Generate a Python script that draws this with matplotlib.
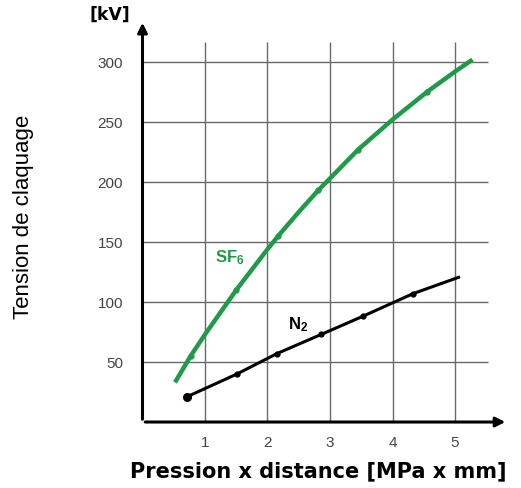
import matplotlib.pyplot as plt
from matplotlib import font_manager

# values
sf6_x = [0.52, 0.77, 1.0, 1.5, 2.0, 2.17, 2.5, 2.81, 3.0, 3.45, 4.0, 4.55, 5.0, 5.28]
sf6_y = [33, 55, 73, 110, 144, 155, 175, 193, 203, 227, 252, 275, 292, 302]
sf6_marks = [1, 3, 5, 7, 9, 11]
n2_x = [0.71, 1.51, 2.15, 2.86, 3.52, 4.33, 5.08]
n2_y = [21, 40, 57, 73, 88, 107, 121]
n2_marks = [0, 1, 2, 3, 4, 5]
x_ticks = [1, 2, 3, 4, 5]
y_ticks = [50, 100, 150, 200, 250, 300]

plt.rcParams['font.family'] = ['Liberation Sans', 'DejaVu Sans']
plt.rcParams['mathtext.default'] = 'regular'
green = '#1f9a48'
gridc = '#6a6a6a'

names = {f.name for f in font_manager.fontManager.ttflist}
narrow = 'Liberation Sans Narrow' if 'Liberation Sans Narrow' in names else 'Liberation Sans'

fig = plt.figure(figsize=(5.21, 4.88), dpi=100)
ax = fig.add_axes([0.2735, 0.1352, 0.7018, 0.8238])
ax.set_xlim(0, 5.85)
ax.set_ylim(0, 335)
for s in ax.spines.values():
    s.set_visible(False)

# grid
ax.vlines(x_ticks, -5, 317, color=gridc, lw=1.0, zorder=1)
ax.hlines(y_ticks, -0.17, 5.53, color=gridc, lw=1.0, zorder=1)

# axes with arrows
ax.annotate('', xy=(5.85, 0), xytext=(0, 0),
            arrowprops=dict(arrowstyle='-|>', lw=2.2, color='black', mutation_scale=14),
            annotation_clip=False, zorder=3)
ax.annotate('', xy=(0, 335), xytext=(0, 0),
            arrowprops=dict(arrowstyle='-|>', lw=2.2, color='black', mutation_scale=14),
            annotation_clip=False, zorder=3)

ax.set_xticks(x_ticks)
ax.set_yticks(y_ticks)
ax.tick_params(length=0, labelsize=11, labelcolor='#444444')
ax.tick_params(axis='x', pad=10)
ax.tick_params(axis='y', pad=14)

ax.plot(sf6_x, sf6_y, color=green, lw=3.2, marker='o', ms=3.5,
        markevery=sf6_marks, solid_capstyle='butt', zorder=4)
ax.plot(n2_x, n2_y, color='black', lw=2.2, marker='o', ms=3.5,
        markevery=n2_marks, solid_capstyle='butt', zorder=4)
ax.plot(n2_x[0], n2_y[0], 'o', color='black', ms=5.5, zorder=5)

ax.text(1.16, 137, 'SF$_6$', color=green, fontsize=12, fontweight='bold', va='center')
ax.text(2.33, 81, 'N$_2$', color='black', fontsize=12, fontweight='bold', va='center')
ax.text(-0.19, 339, '[kV]', fontsize=12.5, fontweight='bold', ha='right', va='center',
        family='DejaVu Sans', clip_on=False)

fig.text(0.045, 0.555, 'Tension de claquage', rotation=90, fontsize=16,
         family=narrow, ha='center', va='center')
fig.text(0.61, 0.035, 'Pression x distance [MPa x mm]', fontsize=15,
         family='DejaVu Sans', fontweight='bold', ha='center', va='center')

plt.savefig('out.png')
plt.close()
